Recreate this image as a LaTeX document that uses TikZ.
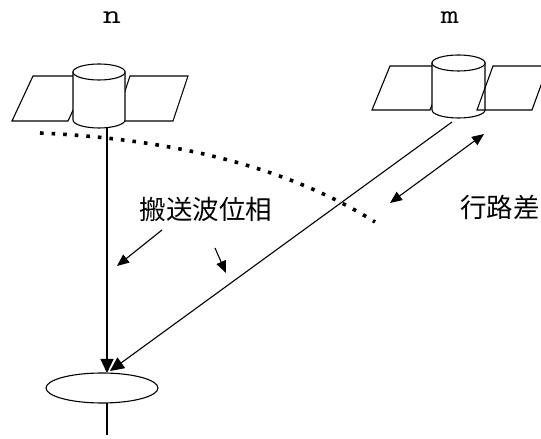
\documentclass[tikz,border=0pt]{standalone}
\usepackage{fontspec}
\newfontfamily\cjk{Noto Sans CJK JP}
\usetikzlibrary{arrows.meta,shapes.geometric}
\begin{document}
\begin{tikzpicture}[x=1pt,y=1pt,line width=1.1pt,
  panel/.style={draw=black,line width=1.1pt},
  body/.style={draw=black,fill=white,line width=1.1pt},
  ray/.style={draw=black,line width=1.1pt},
  tip/.style={-{Triangle[length=12pt,width=10pt]}},
  bigtip/.style={-{Triangle[length=14pt,width=13pt]}},
  cjklabel/.style={font=\cjk\fontsize{26.5}{30}\selectfont,inner sep=0pt},
  satlabel/.style={font=\ttfamily\fontsize{27}{30}\selectfont,inner sep=0pt,xscale=1.3},
  wavefront/.style={draw=black,line width=3.6pt,dash pattern=on 3.6pt off 8pt}]
\clip (0,0) rectangle (541,439);
\fill[white] (0,0) rectangle (541,439);

% satellite n: solar panels behind the cylindrical body
\draw[panel] (33,363) -- (89,363) -- (68,318) -- (12,318) -- cycle;
\draw[panel] (130,363) -- (188,363) -- (173,318) -- (115,318) -- cycle;
\path[body] (73,367) -- (73,319) arc[start angle=180,end angle=360,x radius=26,y radius=8] -- (125,367) -- cycle;
\draw[body] (99,367) ellipse[x radius=26,y radius=8];
\node[satlabel] (labN) at (112,421) {n};

% satellite m
\draw[panel] (390,373) -- (448,373) -- (430,329) -- (372,329) -- cycle;
\path[body] (432,376) -- (432,329) arc[start angle=180,end angle=360,x radius=26.5,y radius=8] -- (485,376) -- cycle;
\draw[body] (458.5,376) ellipse[x radius=26.5,y radius=8];
\draw[panel] (493,373) -- (548,373) -- (532,329) -- (477,329) -- cycle;
\node[satlabel] (labM) at (450,421) {m};

% receiver antenna
\node[draw=black,line width=1.1pt,ellipse,minimum width=112pt,minimum height=30pt,inner sep=0pt] (rcv) at (102,51) {};
\coordinate (satN) at (107,311);
\coordinate (satM) at (452,317);
\coordinate (hitN) at (107,66);
\coordinate (hitM) at (110,68);
\coordinate (mast) at (107,4);
\draw[ray] (107,36) -- (mast);

% signal paths
\draw[ray,bigtip] (satN) -- (hitN);
\draw[ray,bigtip] (satM) -- (hitM);

% wavefront of equal carrier phase
\draw[wavefront] (40,306) .. controls (150,301) and (275,280) .. (375,217);

% path difference
\coordinate (pdA) at (390,236);
\coordinate (pdB) at (484,305);
\draw[ray,{Triangle[length=12pt,width=10pt]}-{Triangle[length=12pt,width=10pt]}] (pdA) -- (pdB);
\node[cjklabel] (pdText) at (500,232) {行路差};

% carrier phase label and pointers
\node[cjklabel] (phText) at (206,230) {搬送波位相};
\coordinate (ptA0) at (162,209);
\coordinate (ptA1) at (117,173);
\coordinate (ptB0) at (215,191);
\coordinate (ptB1) at (226,166);
\draw[ray,tip] (ptA0) -- (ptA1);
\draw[ray,tip] (ptB0) -- (ptB1);
\end{tikzpicture}
\end{document}
